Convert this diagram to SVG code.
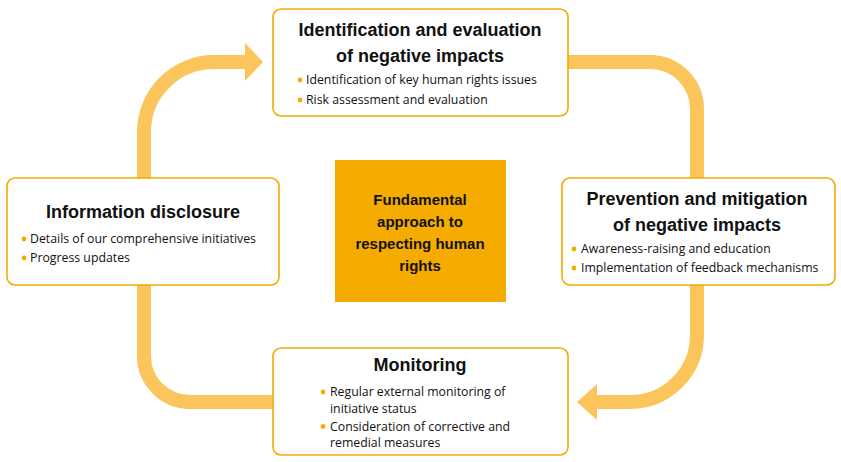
<svg xmlns="http://www.w3.org/2000/svg" width="841" height="462" viewBox="0 0 841 462">
<defs>
<style>
.track{fill:none;stroke:#FBC55C;stroke-width:14}
.head{fill:#FBC55C}
.box{fill:#fff;stroke:#F5AB00;stroke-width:1.6}
.title{font-family:"Liberation Sans",Arial,sans-serif;font-weight:bold;font-size:18px;fill:#111;text-anchor:middle}
.item{font-family:"Open Sans","Liberation Sans",Arial,sans-serif;font-size:12.3px;fill:#111}
.dot{fill:#F5AB00}
.core{font-family:"Liberation Sans",Arial,sans-serif;font-weight:bold;font-size:15px;fill:#111;text-anchor:middle}
</style>
</defs>
<rect width="841" height="462" fill="#fff"/>
<g id="connectors">
<path class="track" d="M144 180 L144 132 A70 70 0 0 1 214 62 L247 62"/>
<polygon class="head" points="245,43 263,62 245,81"/>
<path class="track" d="M566 62 L650 62 A47 47 0 0 1 697 109 L697 180"/>
<path class="track" d="M697 284 L697 335 A67 67 0 0 1 630 402 L595 402"/>
<polygon class="head" points="597,384 577,402 597,420"/>
<path class="track" d="M275 402 L190 402 A46 46 0 0 1 144 356 L144 284"/>
</g>
<g id="node-identification">
<rect class="box" x="273" y="9" width="295" height="107" rx="8"/>
<text class="title" x="420" y="36">Identification and evaluation</text>
<text class="title" x="420" y="62">of negative impacts</text>
<circle class="dot" cx="300" cy="80" r="2.4"/>
<text class="item" x="306" y="84">Identification of key human rights issues</text>
<circle class="dot" cx="300" cy="100" r="2.4"/>
<text class="item" x="306" y="104">Risk assessment and evaluation</text>
</g>
<g id="node-prevention">
<rect class="box" x="562" y="178" width="273" height="107" rx="8"/>
<text class="title" x="697" y="205">Prevention and mitigation</text>
<text class="title" x="697" y="231">of negative impacts</text>
<circle class="dot" cx="574" cy="249" r="2.4"/>
<text class="item" x="581" y="253">Awareness-raising and education</text>
<circle class="dot" cx="574" cy="268" r="2.4"/>
<text class="item" x="581" y="272">Implementation of feedback mechanisms</text>
</g>
<g id="node-monitoring">
<rect class="box" x="273" y="348" width="295" height="107" rx="8"/>
<text class="title" x="420" y="371">Monitoring</text>
<circle class="dot" cx="323" cy="392" r="2.4"/>
<text class="item" x="330" y="396">Regular external monitoring of<tspan x="330" dy="16.5">initiative status</tspan></text>
<circle class="dot" cx="323" cy="426.5" r="2.4"/>
<text class="item" x="330" y="430.5">Consideration of corrective and<tspan x="330" dy="16.5">remedial measures</tspan></text>
</g>
<g id="node-disclosure">
<rect class="box" x="7" y="178" width="272" height="107" rx="8"/>
<text class="title" x="143" y="218">Information disclosure</text>
<circle class="dot" cx="24" cy="239" r="2.4"/>
<text class="item" x="30" y="243">Details of our comprehensive initiatives</text>
<circle class="dot" cx="24" cy="258" r="2.4"/>
<text class="item" x="30" y="262">Progress updates</text>
</g>
<g id="node-core">
<rect x="335" y="160" width="171" height="142" fill="#F5AB00"/>
<text class="core" x="420" y="205">Fundamental<tspan x="420" dy="22">approach to</tspan><tspan x="420" dy="22">respecting human</tspan><tspan x="420" dy="22">rights</tspan></text>
</g>
</svg>
